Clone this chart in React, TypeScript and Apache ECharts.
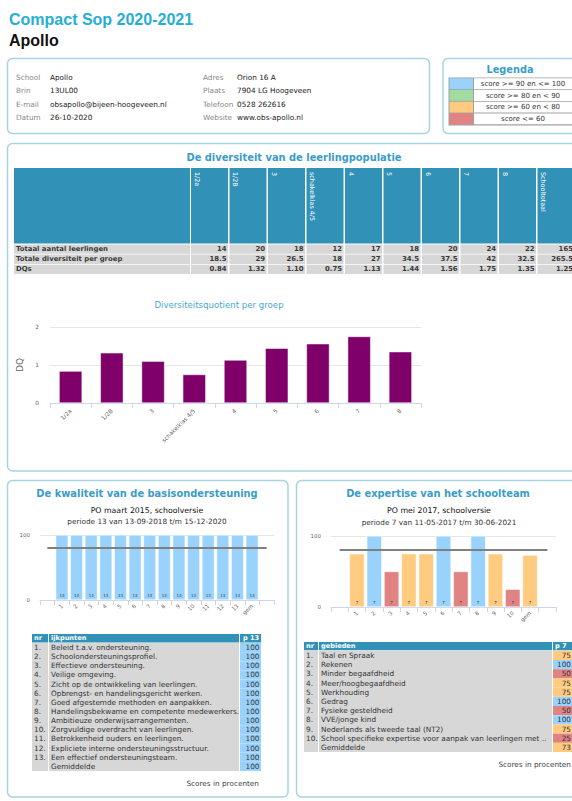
import React, { useEffect, useRef } from "react";
import * as echarts from "echarts";

// ---------- data ----------
const pageTitle = "Compact Sop 2020-2021";
const schoolName = "Apollo";
const infoLabelsLeft = ["School", "Brin", "E-mail", "Datum"];
const infoValuesLeft = ["Apollo", "13UL00", "obsapollo@bijeen-hoogeveen.nl", "26-10-2020"];
const infoLabelsRight = ["Adres", "Plaats", "Telefoon", "Website"];
const infoValuesRight = ["Orion 16 A", "7904 LG Hoogeveen", "0528 262616", "www.obs-apollo.nl"];

const legendTitle = "Legenda";
const legendLabels = ["score >= 90 en <= 100", "score >= 80 en < 90", "score >= 60 en < 80", "score <= 60"];

const diversityTitle = "De diversiteit van de leerlingpopulatie";
const groups = ["1/2a", "1/2B", "3", "schakelklas 4/5", "4", "5", "6", "7", "8"];
const tableColumns = [...groups, "Schooltotaal"];
const rowLabels = ["Totaal aantal leerlingen", "Totale diversiteit per groep", "DQs"];
const totaalLeerlingen = [14, 20, 18, 12, 17, 18, 20, 24, 22, 165];
const totaleDiversiteit = [18.5, 29, 26.5, 18, 27, 34.5, 37.5, 42, 32.5, 265.5];
const dqs = [0.84, 1.32, 1.1, 0.75, 1.13, 1.44, 1.56, 1.75, 1.35, 1.25];
const dqChartTitle = "Diversiteitsquotient per groep";
const dqAxisName = "DQ";

const kwaliteitTitle = "De kwaliteit van de basisondersteuning";
const kwaliteitSub1 = "PO maart 2015, schoolversie";
const kwaliteitSub2 = "periode 13 van 13-09-2018 t/m 15-12-2020";
const kwaliteitPeriode = 13;
const ijkpunten = [
  "Beleid t.a.v. ondersteuning.",
  "Schoolondersteuningsprofiel.",
  "Effectieve ondersteuning.",
  "Veilige omgeving.",
  "Zicht op de ontwikkeling van leerlingen.",
  "Opbrengst- en handelingsgericht werken.",
  "Goed afgestemde methoden en aanpakken.",
  "Handelingsbekwame en competente medewerkers.",
  "Ambitieuze onderwijsarrangementen.",
  "Zorgvuldige overdracht van leerlingen.",
  "Betrokkenheid ouders en leerlingen.",
  "Expliciete interne ondersteuningsstructuur.",
  "Een effectief ondersteuningsteam.",
];
const kwaliteitScores = [100, 100, 100, 100, 100, 100, 100, 100, 100, 100, 100, 100, 100];
const kwaliteitGem = 100;

const expertiseTitle = "De expertise van het schoolteam";
const expertiseSub1 = "PO mei 2017, schoolversie";
const expertiseSub2 = "periode 7 van 11-05-2017 t/m 30-06-2021";
const expertisePeriode = 7;
const gebieden = [
  "Taal en Spraak",
  "Rekenen",
  "Minder begaafdheid",
  "Meer/hoogbegaafdheid",
  "Werkhouding",
  "Gedrag",
  "Fysieke gesteldheid",
  "VVE/jonge kind",
  "Nederlands als tweede taal (NT2)",
  "School specifieke expertise voor aanpak van leerlingen met ..",
];
const expertiseScores = [75, 100, 50, 75, 75, 100, 50, 100, 75, 25];
const expertiseGem = 73;

const norm = 80;
const gemLabel = "gem";
const gemRowLabel = "Gemiddelde";
const scoresNote = "Scores in procenten";

// ---------- styles ----------
const FONT = "DejaVu Sans";
const TITLE_FONT = "Liberation Sans";
const C_BLUE = "#99d3fd";
const C_GREEN = "#a3dca3";
const C_ORANGE = "#ffcb80";
const C_RED = "#e28383";
const legendColors = [C_BLUE, C_GREEN, C_ORANGE, C_RED];
const C_HEAD = "#3291b6";
const C_GRAY = "#d7d7d7";
const C_BOX = "#a7d3e2";
const C_SECTION = "#3a9dc8";
const C_TEXT = "#333333";

function scoreColor(v: number) {
  if (v >= 90) return C_BLUE;
  if (v >= 80) return C_GREEN;
  if (v > 60) return C_ORANGE;
  return C_RED;
}

function txt(x: number, y: number, text: string, o: any = {}) {
  return {
    type: "text",
    x,
    y,
    rotation: o.rotation || 0,
    silent: true,
    z: 10,
    style: {
      text,
      fill: o.fill || C_TEXT,
      fontSize: o.size || 7,
      fontFamily: o.family || FONT,
      fontWeight: o.weight || "normal",
      align: o.align || "left",
      verticalAlign: "middle",
      textAlign: o.align || "left",
      textVerticalAlign: "middle",
    },
  };
}
function rect(x: number, y: number, w: number, h: number, fill: string, o: any = {}) {
  return {
    type: "rect",
    silent: true,
    z: o.z ?? 1,
    shape: { x, y, width: w, height: h, r: o.r || 0 },
    style: { fill, stroke: o.stroke || null, lineWidth: o.lw || 0 },
  };
}
function box(x: number, y: number, w: number, h: number) {
  return rect(x, y, w, h, "#ffffff", { stroke: C_BOX, lw: 1.5, r: 5, z: 0 });
}

function fmt(v: number) {
  return String(v);
}

function buildGraphic() {
  const el: any[] = [];
  // header
  el.push(txt(9, 19, pageTitle, { size: 16, weight: "bold", fill: "#27aed4", family: TITLE_FONT }));
  el.push(txt(9, 40, schoolName, { size: 16, weight: "bold", fill: "#111", family: TITLE_FONT }));

  // info box
  el.push(box(7.5, 58.5, 422, 75));
  const infoY = [77, 90.7, 104.3, 117.7];
  infoLabelsLeft.forEach((l, i) => {
    el.push(txt(16, infoY[i], l, { fill: "#888", size: 7.3 }));
    el.push(txt(50, infoY[i], infoValuesLeft[i], { fill: "#222", size: 7.3 }));
  });
  infoLabelsRight.forEach((l, i) => {
    el.push(txt(203, infoY[i], l, { fill: "#888", size: 7.3 }));
    el.push(txt(237, infoY[i], infoValuesRight[i], { fill: "#222", size: 7.3 }));
  });

  // legend box
  el.push(box(443, 58.5, 160, 75));
  el.push(txt(510, 69, legendTitle, { size: 9.8, weight: "bold", fill: C_SECTION, align: "center" }));
  el.push(rect(448.5, 77.5, 124, 48, "#a0a0a0", { z: 1 }));
  legendLabels.forEach((l, i) => {
    const y = 78.3 + i * 11.7;
    el.push(rect(449.5, y, 23.5, 10.9, legendColors[i], { z: 2 }));
    el.push(rect(474, y, 98, 10.9, "#ffffff", { z: 2 }));
    el.push(txt(523, y + 5.5, l, { size: 7, fill: "#333", align: "center" }));
  });

  // diversity section
  el.push(box(7.5, 143.5, 600, 327.5));
  el.push(txt(294, 157, diversityTitle, { size: 9.9, weight: "bold", fill: C_SECTION, align: "center" }));
  // header
  el.push(rect(14, 168, 176, 75.5, C_HEAD));
  tableColumns.forEach((c, i) => {
    const x = 191 + i * 38.5;
    el.push(rect(x, 168, 37, 75.5, C_HEAD));
    el.push(txt(x + 5.5, 172, c, { size: 6.4, fill: "#ffffff", rotation: -Math.PI / 2 }));
  });
  const rowsData = [totaalLeerlingen.map(fmt), totaleDiversiteit.map(fmt), dqs.map((v) => v.toFixed(2))];
  rowLabels.forEach((l, r) => {
    const y = 244.5 + r * 10.1;
    el.push(rect(14, y, 176, 9.3, C_GRAY));
    el.push(txt(16, y + 4.7, l, { size: 6.9, weight: "bold", fill: "#3a3a3a" }));
    rowsData[r].forEach((v, i) => {
      const x = 191 + i * 38.5;
      el.push(rect(x, y, 37, 9.3, C_GRAY));
      el.push(txt(x + 35.5, y + 4.7, v, { size: 6.9, weight: "bold", fill: "#3a3a3a", align: "right" }));
    });
  });
  el.push(txt(219, 305, dqChartTitle, { size: 8.6, fill: "#4aa6d0", align: "center" }));

  // kwaliteit section
  el.push(box(7.5, 480.5, 280.5, 316.5));
  el.push(txt(147, 493, kwaliteitTitle, { size: 9.9, weight: "bold", fill: C_SECTION, align: "center" }));
  el.push(txt(147, 510, kwaliteitSub1, { size: 7.8, fill: "#111", align: "center" }));
  el.push(txt(147, 521.8, kwaliteitSub2, { size: 7.3, fill: "#333", align: "center" }));
  {
    const top = 634, hh = 8.5, rowH = 9.14;
    el.push(rect(32, top, 16, hh, C_HEAD));
    el.push(rect(49, top, 190, hh, C_HEAD));
    el.push(rect(240, top, 21, hh, C_HEAD));
    el.push(txt(34, top + 4.3, "nr", { size: 6.6, weight: "bold", fill: "#fff" }));
    el.push(txt(51, top + 4.3, "ijkpunten", { size: 6.6, weight: "bold", fill: "#fff" }));
    el.push(txt(243, top + 4.3, "p " + kwaliteitPeriode, { size: 6.6, weight: "bold", fill: "#fff" }));
    const bTop = top + hh + 0.5;
    const labels = [...ijkpunten, gemRowLabel];
    const scores = [...kwaliteitScores, kwaliteitGem];
    el.push(rect(32, bTop, 16, rowH * labels.length, C_GRAY));
    el.push(rect(49, bTop, 190, rowH * labels.length, C_GRAY));
    labels.forEach((l, i) => {
      const y = bTop + i * rowH;
      el.push(rect(240, y, 21, rowH, scoreColor(scores[i])));
      if (i < ijkpunten.length) el.push(txt(34, y + rowH / 2, i + 1 + ".", { size: 7.3, fill: C_TEXT }));
      el.push(txt(51, y + rowH / 2, l, { size: 7.3, fill: C_TEXT }));
      el.push(txt(259.5, y + rowH / 2, String(scores[i]), { size: 7.3, fill: C_TEXT, align: "right" }));
    });
    el.push(txt(259, 783, scoresNote, { size: 7.3, fill: "#444", align: "right" }));
  }

  // expertise section
  el.push(box(296.5, 480.5, 300, 316.5));
  el.push(txt(438, 493, expertiseTitle, { size: 9.9, weight: "bold", fill: C_SECTION, align: "center" }));
  el.push(txt(439, 510, expertiseSub1, { size: 7.8, fill: "#111", align: "center" }));
  el.push(txt(439, 522, expertiseSub2, { size: 7.3, fill: "#333", align: "center" }));
  {
    const top = 642, hh = 8.3, rowH = 9.2;
    el.push(rect(304, top, 14, hh, C_HEAD));
    el.push(rect(319, top, 233, hh, C_HEAD));
    el.push(rect(553, top, 22, hh, C_HEAD));
    el.push(txt(306, top + 4.2, "nr", { size: 6.6, weight: "bold", fill: "#fff" }));
    el.push(txt(321, top + 4.2, "gebieden", { size: 6.6, weight: "bold", fill: "#fff" }));
    el.push(txt(555, top + 4.2, "p " + expertisePeriode, { size: 6.6, weight: "bold", fill: "#fff" }));
    const bTop = top + hh + 0.5;
    const labels = [...gebieden, gemRowLabel];
    const scores = [...expertiseScores, expertiseGem];
    el.push(rect(304, bTop, 14, rowH * labels.length, C_GRAY));
    el.push(rect(319, bTop, 233, rowH * labels.length, C_GRAY));
    labels.forEach((l, i) => {
      const y = bTop + i * rowH;
      el.push(rect(553, y, 22, rowH, scoreColor(scores[i])));
      if (i < gebieden.length) el.push(txt(306, y + rowH / 2, i + 1 + ".", { size: 7.3, fill: C_TEXT }));
      el.push(txt(321, y + rowH / 2, l, { size: 7.3, fill: C_TEXT }));
      el.push(txt(571, y + rowH / 2, String(scores[i]), { size: 7.3, fill: C_TEXT, align: "right" }));
    });
    el.push(txt(571, 764, scoresNote, { size: 7.3, fill: "#444", align: "right" }));
  }
  return el;
}

function scoreAxes(cats: string[], gridIndex: number) {
  return {
    x: {
      type: "category",
      gridIndex,
      data: cats,
      axisLine: { lineStyle: { color: "#ccd6eb" } },
      axisTick: { show: true, length: 5, interval: 0, lineStyle: { color: "#ccd6eb" } },
      axisLabel: { rotate: 45, interval: 0, fontSize: 5.5, color: "#666", fontFamily: FONT, margin: 5 },
    },
    y: {
      type: "value",
      gridIndex,
      min: 0,
      max: 100,
      interval: 100,
      axisLine: { show: false },
      axisTick: { show: false },
      splitLine: { lineStyle: { color: "#e6e6e6" } },
      axisLabel: { fontSize: 5.5, color: "#666", fontFamily: FONT, margin: 10 },
    },
  };
}

function scoreSeries(scores: number[], gem: number, periode: number, idx: number, barWidth: number) {
  const all = [...scores, gem];
  const data: any[] = ["-", ...all.map((v) => ({ value: v, itemStyle: { color: scoreColor(v) } })), "-"];
  return {
    type: "bar",
    xAxisIndex: idx,
    yAxisIndex: idx,
    barWidth,
    data,
    itemStyle: { borderColor: "#ffffff", borderWidth: 0.5 },
    label: {
      show: true,
      position: "insideBottom",
      distance: 3,
      fontSize: 4,
      color: "#333",
      fontFamily: FONT,
      formatter: () => String(periode),
    },
    markLine: {
      silent: true,
      symbol: "none",
      label: { show: false },
      lineStyle: { color: "#808080", width: 2, type: "solid" },
      data: [[{ coord: [0, norm] }, { coord: [all.length + 1, norm] }]],
    },
  };
}

function buildOption() {
  const kCats = ["", ...kwaliteitScores.map((_, i) => String(i + 1)), gemLabel, ""];
  const eCats = ["", ...expertiseScores.map((_, i) => String(i + 1)), gemLabel, ""];
  const k = scoreAxes(kCats, 1);
  const e = scoreAxes(eCats, 2);
  return {
    animation: false,
    textStyle: { fontFamily: FONT },
    grid: [
      { left: 50, top: 327, width: 371, height: 76 },
      { left: 40, top: 535, width: 234, height: 65 },
      { left: 331, top: 536, width: 225, height: 71 },
    ],
    xAxis: [
      {
        type: "category",
        gridIndex: 0,
        data: groups,
        axisLine: { lineStyle: { color: "#ccd6eb" } },
        axisTick: { show: true, length: 5, lineStyle: { color: "#ccd6eb" } },
        axisLabel: { rotate: 45, interval: 0, fontSize: 5.8, color: "#666", fontFamily: FONT, margin: 7 },
      },
      k.x,
      e.x,
    ],
    yAxis: [
      {
        type: "value",
        gridIndex: 0,
        min: 0,
        max: 2,
        interval: 1,
        axisLine: { show: false },
        axisTick: { show: false },
        splitLine: { lineStyle: { color: "#e6e6e6" } },
        axisLabel: { fontSize: 5.8, color: "#666", fontFamily: FONT, margin: 11 },
        name: dqAxisName,
        nameLocation: "middle",
        nameRotate: 90,
        nameGap: 25,
        nameTextStyle: { fontSize: 9, color: "#666", fontFamily: FONT },
      },
      k.y,
      e.y,
    ],
    series: [
      {
        type: "bar",
        xAxisIndex: 0,
        yAxisIndex: 0,
        barWidth: 23,
        data: dqs.slice(0, groups.length),
        itemStyle: { color: "#7e0068", borderColor: "#ffffff", borderWidth: 0.5 },
      },
      scoreSeries(kwaliteitScores, kwaliteitGem, kwaliteitPeriode, 1, 12.5),
      scoreSeries(expertiseScores, expertiseGem, expertisePeriode, 2, 15),
    ],
    graphic: { elements: buildGraphic() },
  };
}

export default function App() {
  const ref = useRef<HTMLDivElement>(null);
  useEffect(() => {
    const chart = echarts.init(ref.current as HTMLDivElement, null, { renderer: "svg" });
    chart.setOption(buildOption() as any);
    return () => chart.dispose();
  }, []);
  return (
    <div
      ref={ref}
      style={{ position: "absolute", left: 0, top: 0, width: 572, height: 801, overflow: "hidden", background: "#fff" }}
    />
  );
}
